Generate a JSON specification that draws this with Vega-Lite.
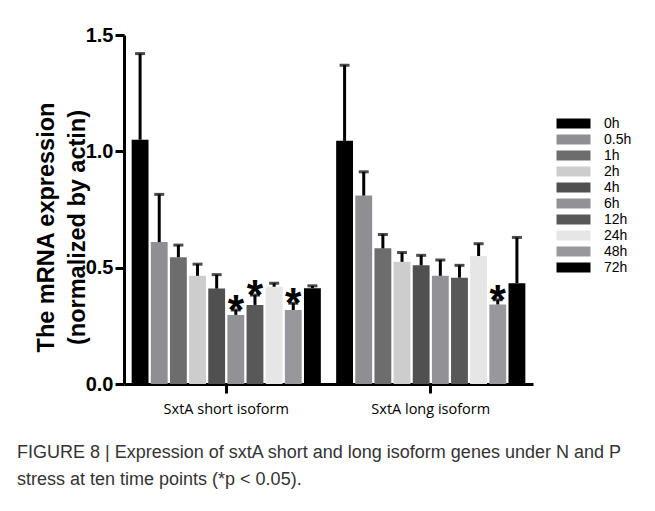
{
  "$schema": "https://vega.github.io/schema/vega-lite/v6.json",
  "width": 409,
  "height": 349,
  "autosize": "none",
  "padding": {"left": 124, "top": 35, "right": 122, "bottom": 127},
  "background": "white",
  "config": {"view": {"stroke": null}},
  "title": {
    "text": ["FIGURE 8 | Expression of sxtA short and long isoform genes under N and P", "stress at ten time points (*p < 0.05)."],
    "orient": "bottom",
    "anchor": "start",
    "frame": "group",
    "dx": -107,
    "offset": 28,
    "font": "Liberation Sans",
    "fontSize": 18,
    "fontWeight": "normal",
    "color": "#333333",
    "lineHeight": 27
  },
  "data": {
    "values": [
      {"group": "SxtA short isoform", "time": "0h", "value": 1.05, "upper": 1.42, "sig": ""},
      {"group": "SxtA short isoform", "time": "0.5h", "value": 0.61, "upper": 0.815, "sig": ""},
      {"group": "SxtA short isoform", "time": "1h", "value": 0.545, "upper": 0.597, "sig": ""},
      {"group": "SxtA short isoform", "time": "2h", "value": 0.465, "upper": 0.515, "sig": ""},
      {"group": "SxtA short isoform", "time": "4h", "value": 0.41, "upper": 0.47, "sig": ""},
      {"group": "SxtA short isoform", "time": "6h", "value": 0.297, "upper": 0.318, "sig": "*"},
      {"group": "SxtA short isoform", "time": "12h", "value": 0.34, "upper": 0.382, "sig": "*"},
      {"group": "SxtA short isoform", "time": "24h", "value": 0.418, "upper": 0.433, "sig": ""},
      {"group": "SxtA short isoform", "time": "48h", "value": 0.318, "upper": 0.347, "sig": "*"},
      {"group": "SxtA short isoform", "time": "72h", "value": 0.412, "upper": 0.422, "sig": ""},
      {"group": "SxtA long isoform", "time": "0h", "value": 1.045, "upper": 1.37, "sig": ""},
      {"group": "SxtA long isoform", "time": "0.5h", "value": 0.81, "upper": 0.912, "sig": ""},
      {"group": "SxtA long isoform", "time": "1h", "value": 0.583, "upper": 0.643, "sig": ""},
      {"group": "SxtA long isoform", "time": "2h", "value": 0.525, "upper": 0.565, "sig": ""},
      {"group": "SxtA long isoform", "time": "4h", "value": 0.51, "upper": 0.553, "sig": ""},
      {"group": "SxtA long isoform", "time": "6h", "value": 0.465, "upper": 0.533, "sig": ""},
      {"group": "SxtA long isoform", "time": "12h", "value": 0.457, "upper": 0.51, "sig": ""},
      {"group": "SxtA long isoform", "time": "24h", "value": 0.55, "upper": 0.603, "sig": ""},
      {"group": "SxtA long isoform", "time": "48h", "value": 0.342, "upper": 0.362, "sig": "*"},
      {"group": "SxtA long isoform", "time": "72h", "value": 0.433, "upper": 0.63, "sig": ""}
    ]
  },
  "encoding": {
    "x": {
      "field": "group",
      "type": "nominal",
      "sort": ["SxtA short isoform", "SxtA long isoform"],
      "scale": {"paddingInner": 0, "paddingOuter": 0},
      "axis": {
        "title": null,
        "labelAngle": 0,
        "labelFont": "Open Sans",
        "labelFontSize": 14.5,
        "labelColor": "black",
        "labelPadding": 9,
        "domainColor": "black",
        "domainWidth": 3,
        "tickColor": "black",
        "tickWidth": 3,
        "tickSize": 9
      }
    },
    "xOffset": {
      "field": "time",
      "type": "nominal",
      "sort": ["0h", "0.5h", "1h", "2h", "4h", "6h", "12h", "24h", "48h", "72h"],
      "scale": {"paddingInner": 0.12, "paddingOuter": 0.4}
    }
  },
  "layer": [
    {
      "mark": {"type": "bar"},
      "encoding": {
        "y": {
          "field": "value",
          "type": "quantitative",
          "scale": {"domain": [0, 1.5], "nice": false},
          "axis": {
            "title": ["The mRNA expression", "(normalized by actin)"],
            "titleFont": "Liberation Sans",
            "titleFontSize": 23.5,
            "titleFontWeight": "bold",
            "titleColor": "black",
            "titleLineHeight": 31,
            "titlePadding": -4,
            "titleY": 192,
            "values": [0, 0.5, 1, 1.5],
            "format": ".1f",
            "grid": false,
            "labelFont": "Liberation Sans",
            "labelFontSize": 20,
            "labelFontWeight": "bold",
            "labelColor": "black",
            "labelPadding": 2,
            "domainColor": "black",
            "domainWidth": 3,
            "tickColor": "black",
            "tickWidth": 3,
            "tickSize": 9
          }
        },
        "color": {
          "field": "time",
          "type": "nominal",
          "sort": ["0h", "0.5h", "1h", "2h", "4h", "6h", "12h", "24h", "48h", "72h"],
          "scale": {
            "domain": ["0h", "0.5h", "1h", "2h", "4h", "6h", "12h", "24h", "48h", "72h"],
            "range": ["#000000", "#8f8f93", "#6d6d6d", "#cdcdcd", "#505050", "#929296", "#585858", "#e6e6e6", "#98989c", "#000000"]
          },
          "legend": {
            "title": null,
            "orient": "none",
            "legendX": 441,
            "legendY": 80,
            "symbolType": "M-2,-0.6H2V0.6H-2Z",
            "symbolSize": 289,
            "symbolStrokeWidth": 0,
            "labelFont": "Liberation Sans",
            "labelFontSize": 14,
            "labelColor": "black",
            "labelOffset": 22,
            "rowPadding": 0
          }
        }
      }
    },
    {
      "mark": {"type": "rule", "strokeWidth": 3, "color": "black"},
      "encoding": {
        "y": {"field": "value", "type": "quantitative"},
        "y2": {"field": "upper"}
      }
    },
    {
      "mark": {"type": "tick", "thickness": 3, "size": 10, "color": "black"},
      "encoding": {
        "y": {"field": "upper", "type": "quantitative"}
      }
    },
    {
      "transform": [{"filter": "datum.sig == '*'"}],
      "mark": {"type": "text", "font": "Liberation Sans", "fontSize": 42, "fontWeight": "bold", "baseline": "alphabetic", "dy": 14, "color": "black"},
      "encoding": {
        "y": {"field": "upper", "type": "quantitative"},
        "text": {"field": "sig"}
      }
    }
  ]
}
